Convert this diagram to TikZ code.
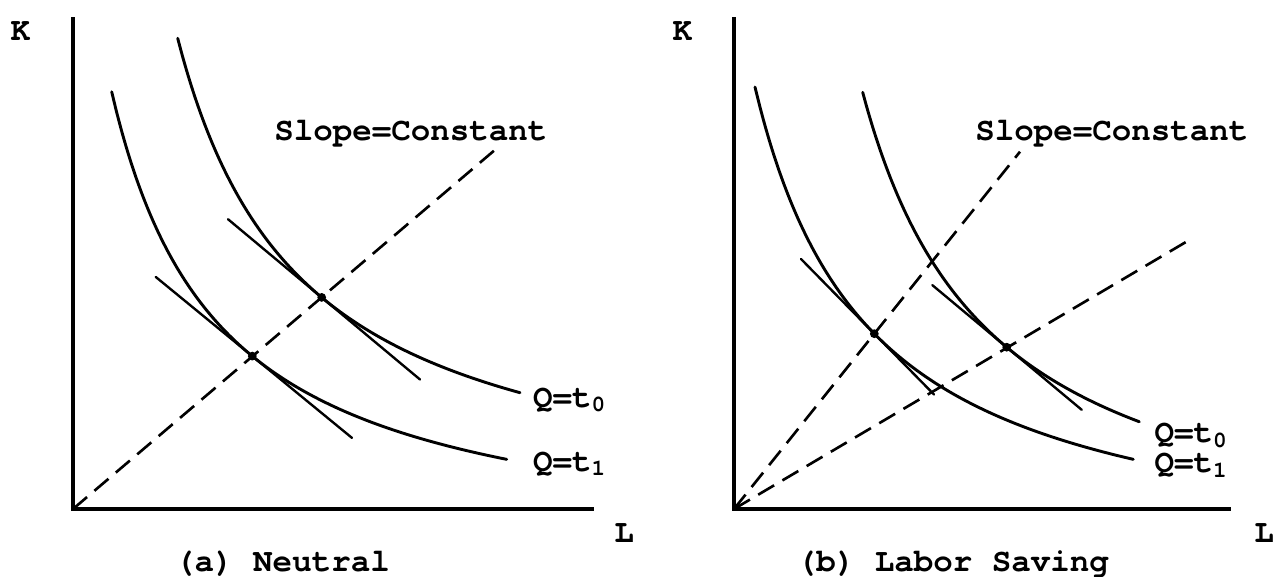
\documentclass[tikz,border=0pt]{standalone}
\usepackage{fontspec}
\setmonofont{TeX Gyre Cursor}
\begin{document}
\begin{tikzpicture}[x=0.2cm,y=0.2cm,
    axis/.style={line width=1.9pt},
    iso/.style={line width=1.65pt,line cap=round,samples=80,smooth},
    tang/.style={line width=1.35pt,line cap=round},
    ray/.style={line width=1.5pt,dash pattern=on 10.5pt off 5.5pt},
    lbl/.style={font=\fontsize{18.5}{22}\selectfont\ttfamily\bfseries,inner sep=0pt},
    dot/.style={circle,fill,inner sep=0pt,minimum size=5pt}]
  \useasboundingbox (0,0) rectangle (127.3,57.6);
  % (a) neutral
  \begin{scope}[shift={(7.3,6.7)}]
    \coordinate (Oa) at (0,0);
    \draw[axis] (0,49.2) -- (Oa) -- (52.1,0);
    \node[lbl,anchor=base] (Ka) at (-5.25,46.83) {K};
    \node[lbl,anchor=base] (La) at (55.1,-3.33) {L};
    \node[lbl,anchor=base] (capa) at (20.95,-6.27) {(a) Neutral};
    \draw[iso,domain=10.47:44.7] plot (\x,{602.93/(\x+2)-1.28});
    \draw[iso,domain=3.87:43.37] plot (\x,{509.49/(\x+7)-5.15});
    \draw[tang] (15.5,28.98) -- (34.7,12.95);
    \draw[tang] (8.27,23.21) -- (27.9,7.11);
    \coordinate (Ea) at (42.3,36.0);
    \draw[ray] (Oa) -- (Ea);
    \node[dot] (Pa0) at (24.87,21.16) {};
    \node[dot] (Pa1) at (17.93,15.29) {};
    \node[lbl,anchor=base west] (slopea) at (20.1,36.9) {Slope=Constant};
    \node[lbl,anchor=base west] (qa0) at (45.97,10.2) {Q=t\textsubscript{0}};
    \node[lbl,anchor=base west] (qa1) at (45.97,3.8) {Q=t\textsubscript{1}};
  \end{scope}
  % (b) labor saving
  \begin{scope}[shift={(73.4,6.7)}]
    \coordinate (Ob) at (0,0);
    \draw[axis] (0,49.2) -- (Ob) -- (49.7,0);
    \node[lbl,anchor=base] (Kb) at (-5.16,46.83) {K};
    \node[lbl,anchor=base] (Lb) at (53.0,-3.33) {L};
    \node[lbl,anchor=base] (capb) at (21.89,-6.27) {(b) Labor Saving};
    \draw[iso,domain=12.87:40.53] plot (\x,{621.2/\x-6.6});
    \draw[iso,domain=2.1:39.93] plot (\x,{564.3/(\x+9.5)-6.45});
    \draw[tang] (6.7,25.0) -- (20.0,11.45);
    \draw[tang] (19.83,22.39) -- (34.77,9.92);
    \coordinate (Eb1) at (28.6,35.73);
    \coordinate (Eb0) at (45.53,26.9);
    \draw[ray] (Ob) -- (Eb1);
    \draw[ray] (Ob) -- (Eb0);
    \node[dot] (Pb1) at (14.03,17.53) {};
    \node[dot] (Pb0) at (27.27,16.18) {};
    \node[lbl,anchor=base west] (slopeb) at (24.1,36.9) {Slope=Constant};
    \node[lbl,anchor=base west] (qb0) at (42.03,6.64) {Q=t\textsubscript{0}};
    \node[lbl,anchor=base west] (qb1) at (42.03,3.64) {Q=t\textsubscript{1}};
  \end{scope}
\end{tikzpicture}
\end{document}
